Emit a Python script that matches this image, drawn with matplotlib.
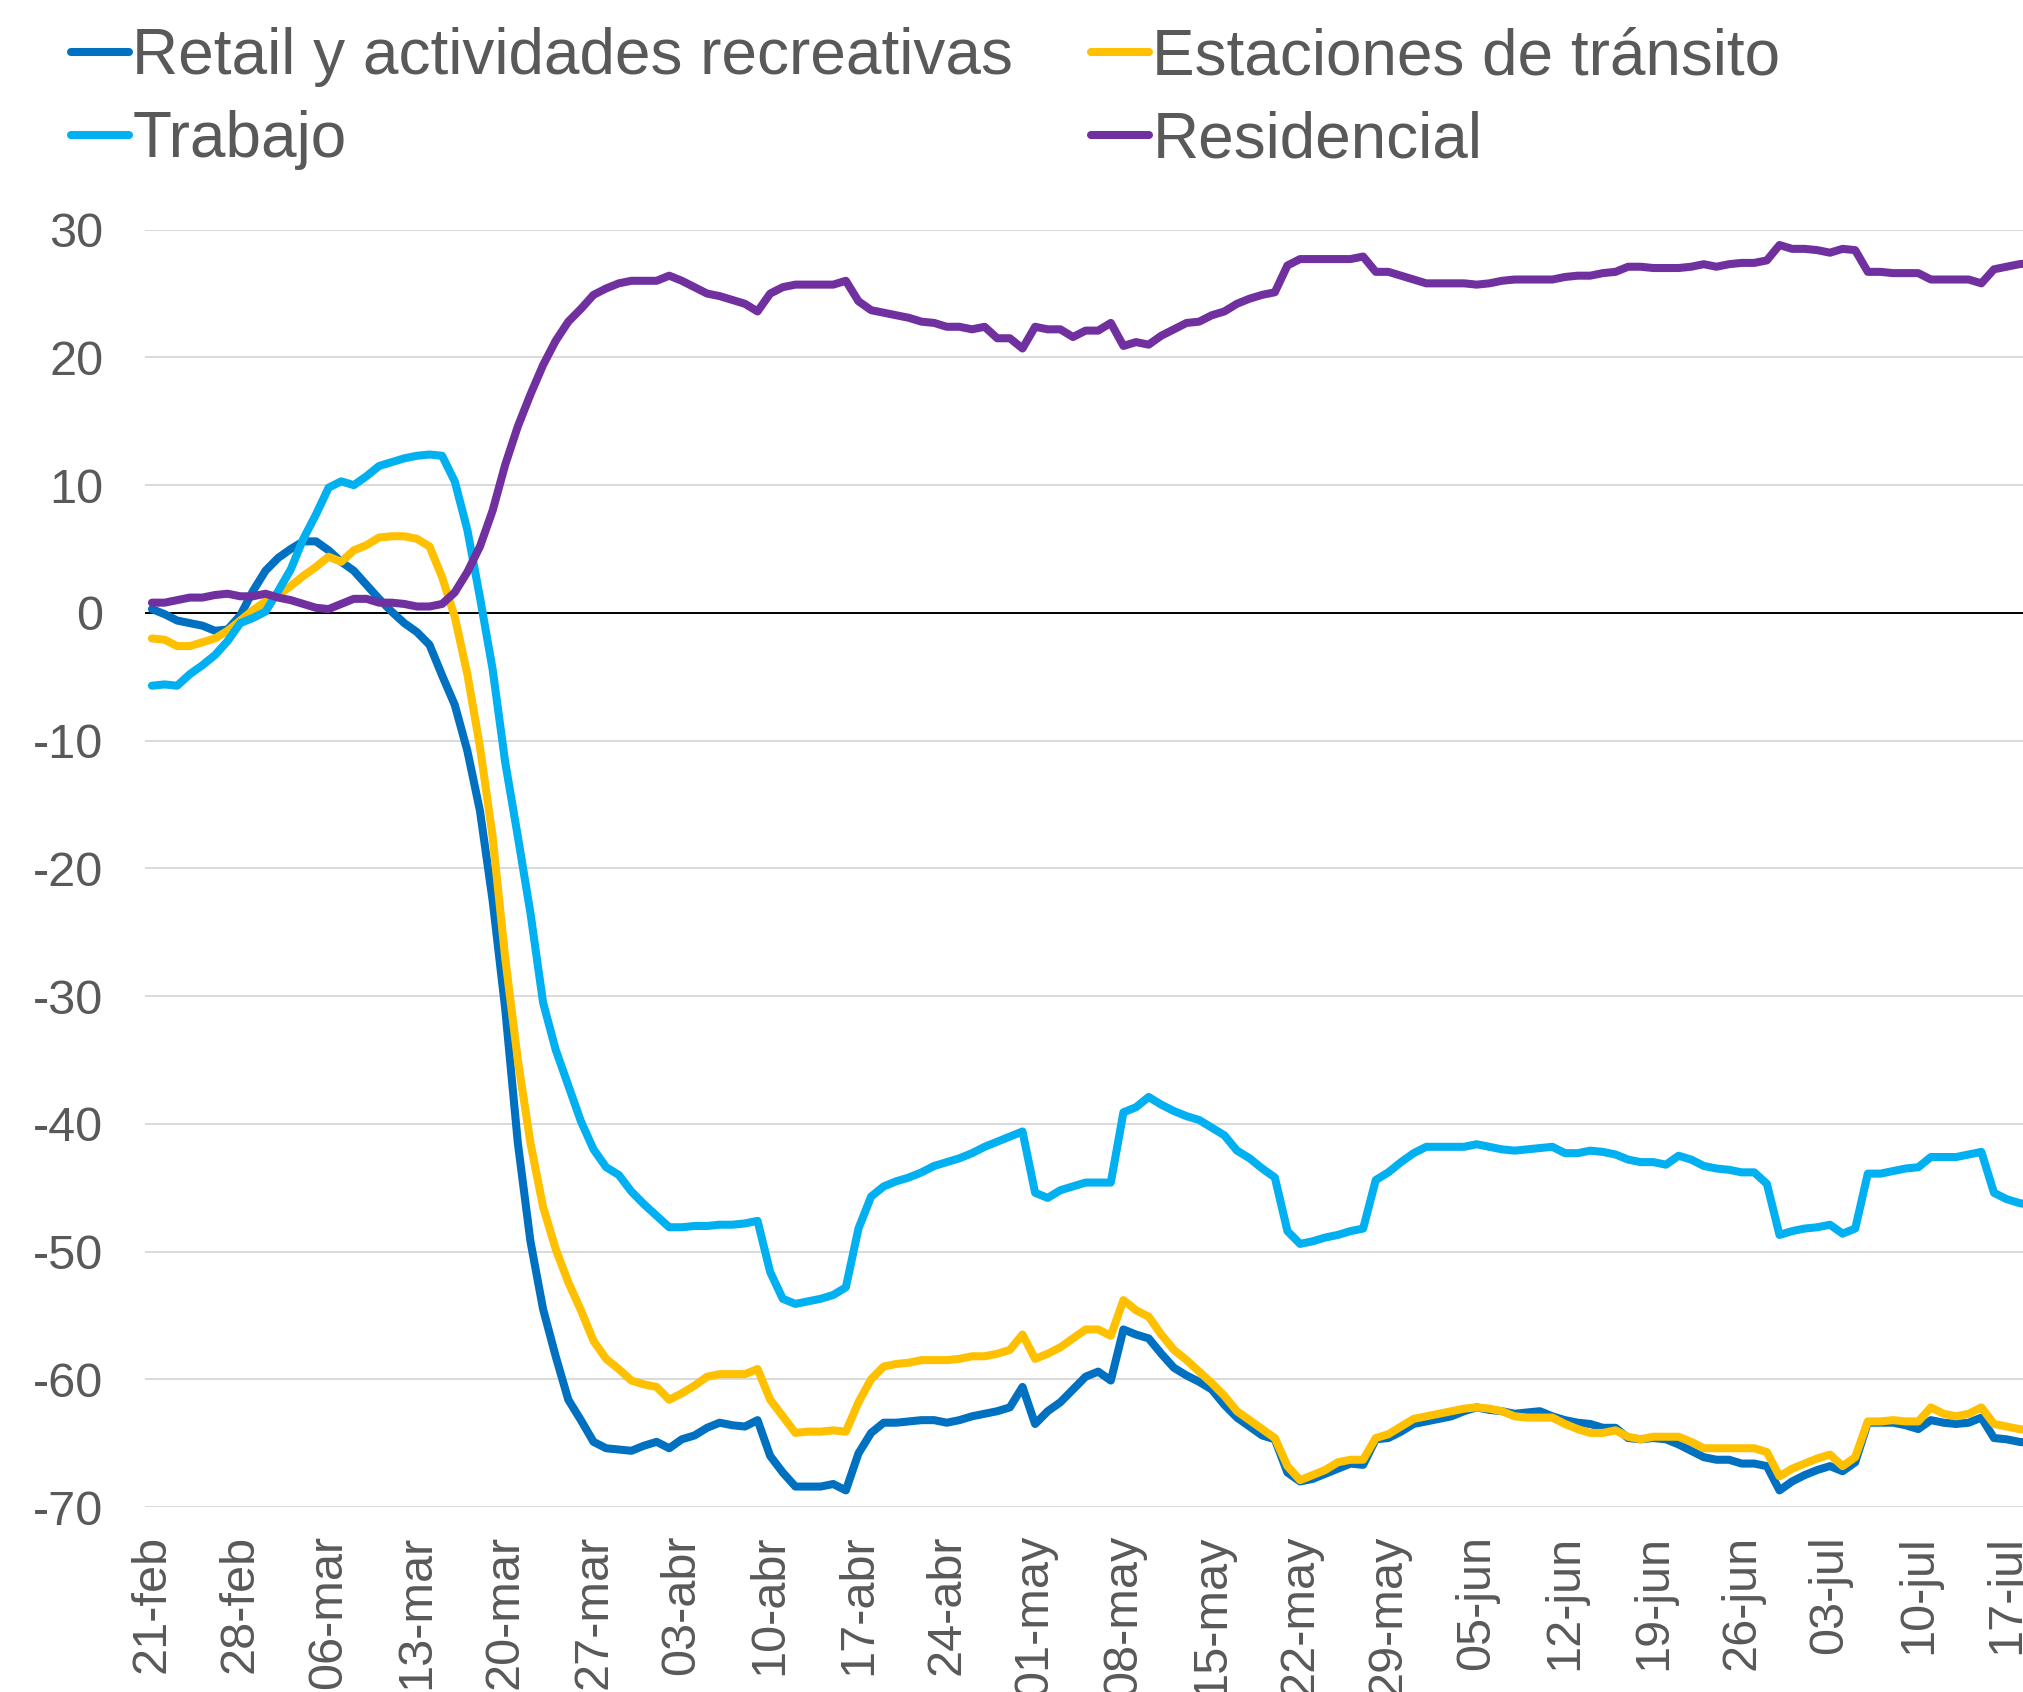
import numpy as np
import matplotlib
matplotlib.use('Agg')
import matplotlib.pyplot as plt

plt.rcParams['font.family'] = ['Liberation Sans', 'DejaVu Sans']
plt.rcParams['axes.unicode_minus'] = False

# daily values from 21-feb (index 0) onward
retail = [
    0.3, -0.1, -0.6, -0.8, -1.0, -1.4, -1.3, -0.2, 1.7, 3.3,
    4.3, 5.0, 5.6, 5.6, 4.9, 4.0, 3.3, 2.2, 1.1, 0.1,
    -0.8, -1.5, -2.5, -4.9, -7.2, -10.8, -15.5, -22.5, -31.0, -41.5,
    -49.2, -54.5, -58.2, -61.6, -63.2, -64.9, -65.4, -65.5, -65.6, -65.2,
    -64.9, -65.4, -64.7, -64.4, -63.8, -63.4, -63.6, -63.7, -63.2, -66.0,
    -67.3, -68.4, -68.4, -68.4, -68.2, -68.7, -65.8, -64.2, -63.4, -63.4,
    -63.3, -63.2, -63.2, -63.4, -63.2, -62.9, -62.7, -62.5, -62.2, -60.6,
    -63.5, -62.5, -61.8, -60.8, -59.8, -59.4, -60.1, -56.1, -56.5, -56.8,
    -58.0, -59.1, -59.7, -60.2, -60.8, -62.0, -63.0, -63.7, -64.4, -64.7,
    -67.3, -68.0, -67.8, -67.4, -67.0, -66.6, -66.7, -64.7, -64.6, -64.1,
    -63.5, -63.3, -63.1, -62.9, -62.5, -62.2, -62.4, -62.5, -62.7, -62.6,
    -62.5, -62.9, -63.2, -63.4, -63.5, -63.8, -63.8, -64.6, -64.7, -64.6,
    -64.7, -65.1, -65.6, -66.1, -66.3, -66.3, -66.6, -66.6, -66.8, -68.7,
    -68.0, -67.5, -67.1, -66.8, -67.2, -66.5, -63.4, -63.4, -63.4, -63.6,
    -63.9, -63.2, -63.4, -63.5, -63.4, -63.0, -64.6, -64.7, -64.9, -65.0,
]
estaciones = [
    -2.0, -2.1, -2.6, -2.6, -2.3, -2.0, -1.4, -0.6, 0.2, 0.9,
    1.4, 2.1, 2.9, 3.6, 4.4, 4.0, 4.9, 5.3, 5.9, 6.0,
    6.0, 5.8, 5.2, 2.8, -0.3, -4.8, -10.5, -17.5, -27.0, -35.0,
    -41.5, -46.5, -49.8, -52.4, -54.6, -57.0, -58.4, -59.2, -60.1, -60.4,
    -60.6, -61.6, -61.1, -60.5, -59.8, -59.6, -59.6, -59.6, -59.2, -61.6,
    -62.9, -64.2, -64.1, -64.1, -64.0, -64.1, -61.8, -60.0, -59.0, -58.8,
    -58.7, -58.5, -58.5, -58.5, -58.4, -58.2, -58.2, -58.0, -57.7, -56.5,
    -58.4, -58.0, -57.5, -56.8, -56.1, -56.1, -56.6, -53.8, -54.6, -55.1,
    -56.5, -57.7, -58.5, -59.4, -60.3, -61.3, -62.5, -63.2, -63.9, -64.6,
    -66.8, -67.9, -67.5, -67.1, -66.5, -66.3, -66.3, -64.6, -64.3, -63.7,
    -63.1, -62.9, -62.7, -62.5, -62.3, -62.2, -62.3, -62.5, -62.9, -63.0,
    -63.0, -63.0, -63.5, -63.9, -64.2, -64.2, -64.0, -64.5, -64.7, -64.5,
    -64.5, -64.5, -64.9, -65.4, -65.4, -65.4, -65.4, -65.4, -65.7, -67.6,
    -67.0, -66.6, -66.2, -65.9, -66.8, -66.1, -63.3, -63.3, -63.2, -63.3,
    -63.3, -62.2, -62.7, -62.9, -62.7, -62.2, -63.5, -63.7, -63.9, -64.0,
]
trabajo = [
    -5.7, -5.6, -5.7, -4.8, -4.1, -3.3, -2.2, -0.8, -0.4, 0.1,
    1.7, 3.4, 5.8, 7.7, 9.8, 10.3, 10.0, 10.7, 11.5, 11.8,
    12.1, 12.3, 12.4, 12.3, 10.3, 6.5, 1.2, -4.4, -11.7, -17.5,
    -23.5, -30.5, -34.2, -37.0, -39.8, -42.0, -43.4, -44.0, -45.3, -46.3,
    -47.2, -48.1, -48.1, -48.0, -48.0, -47.9, -47.9, -47.8, -47.6, -51.6,
    -53.7, -54.1, -53.9, -53.7, -53.4, -52.8, -48.2, -45.7, -44.9, -44.5,
    -44.2, -43.8, -43.3, -43.0, -42.7, -42.3, -41.8, -41.4, -41.0, -40.6,
    -45.4, -45.8, -45.2, -44.9, -44.6, -44.6, -44.6, -39.1, -38.7, -37.9,
    -38.5, -39.0, -39.4, -39.7, -40.3, -40.9, -42.1, -42.7, -43.5, -44.2,
    -48.4, -49.4, -49.2, -48.9, -48.7, -48.4, -48.2, -44.4, -43.8, -43.0,
    -42.3, -41.8, -41.8, -41.8, -41.8, -41.6, -41.8, -42.0, -42.1, -42.0,
    -41.9, -41.8, -42.3, -42.3, -42.1, -42.2, -42.4, -42.8, -43.0, -43.0,
    -43.2, -42.5, -42.8, -43.3, -43.5, -43.6, -43.8, -43.8, -44.7, -48.7,
    -48.4, -48.2, -48.1, -47.9, -48.6, -48.2, -43.9, -43.9, -43.7, -43.5,
    -43.4, -42.6, -42.6, -42.6, -42.4, -42.2, -45.4, -45.9, -46.2, -46.4,
]
residencial = [
    0.8, 0.8, 1.0, 1.2, 1.2, 1.4, 1.5, 1.3, 1.3, 1.5,
    1.2, 1.0, 0.7, 0.4, 0.3, 0.7, 1.1, 1.1, 0.8, 0.8,
    0.7, 0.5, 0.5, 0.7, 1.6, 3.2, 5.2, 8.0, 11.6, 14.6,
    17.1, 19.4, 21.3, 22.8, 23.8, 24.9, 25.4, 25.8, 26.0, 26.0,
    26.0, 26.4, 26.0, 25.5, 25.0, 24.8, 24.5, 24.2, 23.6, 25.0,
    25.5, 25.7, 25.7, 25.7, 25.7, 26.0, 24.4, 23.7, 23.5, 23.3,
    23.1, 22.8, 22.7, 22.4, 22.4, 22.2, 22.4, 21.5, 21.5, 20.7,
    22.4, 22.2, 22.2, 21.6, 22.1, 22.1, 22.7, 20.9, 21.2, 21.0,
    21.7, 22.2, 22.7, 22.8, 23.3, 23.6, 24.2, 24.6, 24.9, 25.1,
    27.2, 27.7, 27.7, 27.7, 27.7, 27.7, 27.9, 26.7, 26.7, 26.4,
    26.1, 25.8, 25.8, 25.8, 25.8, 25.7, 25.8, 26.0, 26.1, 26.1,
    26.1, 26.1, 26.3, 26.4, 26.4, 26.6, 26.7, 27.1, 27.1, 27.0,
    27.0, 27.0, 27.1, 27.3, 27.1, 27.3, 27.4, 27.4, 27.6, 28.8,
    28.5, 28.5, 28.4, 28.2, 28.5, 28.4, 26.7, 26.7, 26.6, 26.6,
    26.6, 26.1, 26.1, 26.1, 26.1, 25.8, 26.9, 27.1, 27.3, 27.4,
]

tick_labels = ['21-feb', '28-feb', '06-mar', '13-mar', '20-mar', '27-mar',
               '03-abr', '10-abr', '17-abr', '24-abr', '01-may', '08-may',
               '15-may', '22-may', '29-may', '05-jun', '12-jun', '19-jun',
               '26-jun', '03-jul', '10-jul', '17-jul']

series = [
    ('Retail y actividades recreativas', retail, '#0070C0'),
    ('Estaciones de tránsito', estaciones, '#FFC000'),
    ('Trabajo', trabajo, '#00B0F0'),
    ('Residencial', residencial, '#7030A0'),
]

W, H = 2023, 1692
fig = plt.figure(figsize=(W / 100, H / 100), dpi=100)
ax = fig.add_axes([145 / W, 1 - 1507 / H, (W - 145) / W, (1507 - 229.7) / H])

lines = {}
for name, vals, color in series:
    x = np.arange(len(vals))
    ln, = ax.plot(x, vals, color=color, lw=5.8, solid_joinstyle='round',
                  solid_capstyle='round', label=name, zorder=3)
    lines[name] = ln

ax.set_xlim(-0.55, 148.3)
ax.set_ylim(-70, 30)
ax.set_yticks(np.arange(-70, 31, 10))
ax.yaxis.grid(True, color='#D9D9D9', lw=1.4, zorder=0)
ax.axhline(0, color='black', lw=1.4, zorder=2)
ax.set_xticks(np.arange(0, 7 * len(tick_labels), 7))
ax.set_xticklabels(tick_labels, rotation=90)
ax.tick_params(axis='both', length=0, labelsize=35, labelcolor='#595959')
ax.tick_params(axis='y', pad=30)
ax.tick_params(axis='x', pad=20)
for s in ax.spines.values():
    s.set_visible(False)

order = ['Retail y actividades recreativas', 'Trabajo',
         'Estaciones de tránsito', 'Residencial']
leg = fig.legend([lines[n] for n in order], order, ncol=2, loc='upper left',
                 bbox_to_anchor=(71 / W, 0.984), frameon=False, fontsize=46,
                 handlelength=0.9, handletextpad=0.06, columnspacing=1.22,
                 labelspacing=0.36, borderpad=0, borderaxespad=0)
for t in leg.get_texts():
    t.set_color('#595959')

fig.savefig('out.png', dpi=100)
